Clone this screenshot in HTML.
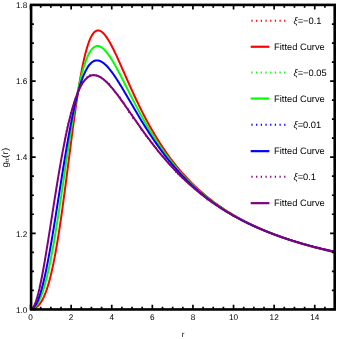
<!DOCTYPE html>
<html><head><meta charset="utf-8"><style>
html,body{margin:0;padding:0;background:#fff;}
svg{display:block;font-family:"Liberation Sans",sans-serif;will-change:transform;text-rendering:geometricPrecision;}
</style></head><body>
<svg width="337" height="339" viewBox="0 0 337 339">
<rect width="337" height="339" fill="#fff"/>

<path d="M31.20 308.80L32.37 308.73L33.55 308.50L34.72 308.09L35.90 307.49L37.07 306.68L38.24 305.64L39.42 304.35L40.59 302.79L41.77 300.94L42.94 298.79L44.12 296.31L45.29 293.49L46.46 290.32L47.64 286.77L48.81 282.84L49.99 278.51L51.16 273.78L52.33 268.64L53.51 263.09L54.68 257.13L55.86 250.76L57.03 244.00L58.21 236.85L59.38 229.34L60.55 221.48L61.73 213.32L62.90 204.88L64.08 196.19L65.25 187.31L66.42 178.28L67.60 169.14L68.77 159.96L69.95 150.78L71.12 141.67L72.29 132.66L73.47 123.83L74.64 115.22L75.82 106.88L76.99 98.85L78.17 91.19L79.34 83.91L80.51 77.06L81.69 70.66L82.86 64.74L84.04 59.29L85.21 54.34L86.38 49.88L87.56 45.92L88.73 42.45L89.91 39.45L91.08 36.92L92.25 34.83L93.43 33.18L94.60 31.93L95.78 31.07L96.95 30.57L98.13 30.42L99.30 30.58L100.47 31.03L101.65 31.75L102.82 32.72L104.00 33.92L105.17 35.32L106.34 36.90L107.52 38.65L108.69 40.55L109.87 42.58L111.04 44.72L112.22 46.97L113.39 49.30L114.56 51.70L115.74 54.17L116.91 56.69L118.09 59.25L119.26 61.85L120.43 64.48L121.61 67.12L122.78 69.77L123.96 72.43L125.13 75.10L126.30 77.76L127.48 80.41L128.65 83.05L129.83 85.67L131.00 88.28L132.18 90.86L133.35 93.42L134.52 95.96L135.70 98.47L136.87 100.96L138.05 103.41L139.22 105.83L140.39 108.23L141.57 110.59L142.74 112.92L143.92 115.21L145.09 117.47L146.26 119.70L147.44 121.90L148.61 124.06L149.79 126.18L150.96 128.28L152.14 130.34L153.31 132.37L154.48 134.36L155.66 136.32L156.83 138.25L158.01 140.15L159.18 142.02L160.35 143.86L161.53 145.66L162.70 147.44L163.88 149.18L165.05 150.90L166.23 152.58L167.40 154.24L168.57 155.87L169.75 157.47L170.92 159.05L172.10 160.60L173.27 162.12L174.44 163.62L175.62 165.10L176.79 166.54L177.97 167.97L179.14 169.37L180.31 170.75L181.49 172.10L182.66 173.43L183.84 174.75L185.01 176.03L186.19 177.30L187.36 178.55L188.53 179.78L189.71 180.99L190.88 182.18L192.06 183.35L193.23 184.50L194.40 185.63L195.58 186.74L196.75 187.84L197.93 188.92L199.10 189.99L200.27 191.03L201.45 192.06L202.62 193.08L203.80 194.08L204.97 195.06L206.15 196.03L207.32 196.99L208.49 197.93L209.67 198.86L210.84 199.77L212.02 200.67L213.19 201.55L214.36 202.43L215.54 203.29L216.71 204.14L217.89 204.97L219.06 205.80L220.24 206.61L221.41 207.41L222.58 208.20L223.76 208.98L224.93 209.75L226.11 210.50L227.28 211.25L228.45 211.99L229.63 212.71L230.80 213.43L231.98 214.14L233.15 214.83L234.32 215.52L235.50 216.20L236.67 216.87L237.85 217.53L239.02 218.18L240.20 218.82L241.37 219.46L242.54 220.09L243.72 220.71L244.89 221.32L246.07 221.92L247.24 222.52L248.41 223.10L249.59 223.69L250.76 224.26L251.94 224.83L253.11 225.38L254.28 225.94L255.46 226.48L256.63 227.02L257.81 227.56L258.98 228.08L260.16 228.60L261.33 229.11L262.50 229.62L263.68 230.12L264.85 230.62L266.03 231.11L267.20 231.59L268.37 232.07L269.55 232.55L270.72 233.01L271.90 233.48L273.07 233.93L274.25 234.38L275.42 234.83L276.59 235.27L277.77 235.71L278.94 236.14L280.12 236.57L281.29 236.99L282.46 237.41L283.64 237.82L284.81 238.23L285.99 238.64L287.16 239.04L288.33 239.43L289.51 239.82L290.68 240.21L291.86 240.59L293.03 240.97L294.21 241.35L295.38 241.72L296.55 242.09L297.73 242.45L298.90 242.81L300.08 243.17L301.25 243.52L302.42 243.87L303.60 244.22L304.77 244.56L305.95 244.90L307.12 245.23L308.29 245.56L309.47 245.89L310.64 246.22L311.82 246.54L312.99 246.86L314.17 247.18L315.34 247.49L316.51 247.80L317.69 248.11L318.86 248.41L320.04 248.71L321.21 249.01L322.38 249.31L323.56 249.60L324.73 249.89L325.91 250.18L327.08 250.46L328.26 250.74L329.43 251.02L330.60 251.30L331.78 251.57L332.95 251.85L334.13 252.12L335.30 252.38" fill="none" stroke="#ff0000" stroke-width="2.0" stroke-linejoin="round"/>
<path d="M31.20 308.80L32.37 308.63L33.55 308.11L34.72 307.25L35.90 306.03L37.07 304.46L38.24 302.52L39.42 300.22L40.59 297.56L41.77 294.52L42.94 291.12L44.12 287.35L45.29 283.21L46.46 278.71L47.64 273.85L48.81 268.64L49.99 263.09L51.16 257.21L52.33 251.01L53.51 244.51L54.68 237.73L55.86 230.69L57.03 223.42L58.21 215.94L59.38 208.28L60.55 200.47L61.73 192.55L62.90 184.55L64.08 176.51L65.25 168.47L66.42 160.45L67.60 152.51L68.77 144.67L69.95 136.98L71.12 129.47L72.29 122.17L73.47 115.11L74.64 108.33L75.82 101.84L76.99 95.67L78.17 89.84L79.34 84.36L80.51 79.25L81.69 74.51L82.86 70.16L84.04 66.18L85.21 62.60L86.38 59.39L87.56 56.55L88.73 54.08L89.91 51.97L91.08 50.20L92.25 48.76L93.43 47.65L94.60 46.83L95.78 46.30L96.95 46.04L98.13 46.04L99.30 46.28L100.47 46.74L101.65 47.41L102.82 48.26L104.00 49.30L105.17 50.49L106.34 51.84L107.52 53.31L108.69 54.91L109.87 56.62L111.04 58.42L112.22 60.32L113.39 62.29L114.56 64.32L115.74 66.42L116.91 68.57L118.09 70.76L119.26 72.98L120.43 75.24L121.61 77.52L122.78 79.81L123.96 82.13L125.13 84.44L126.30 86.77L127.48 89.09L128.65 91.41L129.83 93.73L131.00 96.04L132.18 98.33L133.35 100.62L134.52 102.88L135.70 105.13L136.87 107.37L138.05 109.58L139.22 111.77L140.39 113.93L141.57 116.08L142.74 118.20L143.92 120.29L145.09 122.36L146.26 124.40L147.44 126.42L148.61 128.41L149.79 130.38L150.96 132.31L152.14 134.22L153.31 136.11L154.48 137.96L155.66 139.79L156.83 141.59L158.01 143.37L159.18 145.12L160.35 146.84L161.53 148.53L162.70 150.20L163.88 151.85L165.05 153.47L166.23 155.06L167.40 156.63L168.57 158.18L169.75 159.70L170.92 161.20L172.10 162.67L173.27 164.12L174.44 165.55L175.62 166.95L176.79 168.34L177.97 169.70L179.14 171.04L180.31 172.36L181.49 173.66L182.66 174.94L183.84 176.20L185.01 177.44L186.19 178.66L187.36 179.86L188.53 181.05L189.71 182.21L190.88 183.36L192.06 184.49L193.23 185.60L194.40 186.70L195.58 187.78L196.75 188.84L197.93 189.89L199.10 190.92L200.27 191.93L201.45 192.93L202.62 193.92L203.80 194.89L204.97 195.85L206.15 196.79L207.32 197.72L208.49 198.64L209.67 199.54L210.84 200.43L212.02 201.30L213.19 202.17L214.36 203.02L215.54 203.86L216.71 204.69L217.89 205.51L219.06 206.31L220.24 207.10L221.41 207.89L222.58 208.66L223.76 209.42L224.93 210.17L226.11 210.91L227.28 211.64L228.45 212.36L229.63 213.08L230.80 213.78L231.98 214.47L233.15 215.15L234.32 215.83L235.50 216.49L236.67 217.15L237.85 217.80L239.02 218.44L240.20 219.07L241.37 219.69L242.54 220.31L243.72 220.92L244.89 221.52L246.07 222.11L247.24 222.70L248.41 223.27L249.59 223.85L250.76 224.41L251.94 224.97L253.11 225.52L254.28 226.06L255.46 226.60L256.63 227.13L257.81 227.65L258.98 228.17L260.16 228.68L261.33 229.19L262.50 229.69L263.68 230.18L264.85 230.67L266.03 231.15L267.20 231.63L268.37 232.10L269.55 232.57L270.72 233.03L271.90 233.48L273.07 233.93L274.25 234.38L275.42 234.82L276.59 235.25L277.77 235.68L278.94 236.11L280.12 236.53L281.29 236.95L282.46 237.36L283.64 237.77L284.81 238.17L285.99 238.57L287.16 238.96L288.33 239.35L289.51 239.74L290.68 240.12L291.86 240.50L293.03 240.88L294.21 241.25L295.38 241.61L296.55 241.97L297.73 242.33L298.90 242.69L300.08 243.04L301.25 243.39L302.42 243.73L303.60 244.08L304.77 244.41L305.95 244.75L307.12 245.08L308.29 245.41L309.47 245.73L310.64 246.05L311.82 246.37L312.99 246.69L314.17 247.00L315.34 247.31L316.51 247.61L317.69 247.92L318.86 248.22L320.04 248.51L321.21 248.81L322.38 249.10L323.56 249.39L324.73 249.68L325.91 249.96L327.08 250.24L328.26 250.52L329.43 250.80L330.60 251.07L331.78 251.34L332.95 251.61L334.13 251.88L335.30 252.14" fill="none" stroke="#00ff00" stroke-width="2.0" stroke-linejoin="round"/>
<path d="M31.20 308.80L32.37 308.54L33.55 307.76L34.72 306.47L35.90 304.68L37.07 302.40L38.24 299.65L39.42 296.43L40.59 292.77L41.77 288.68L42.94 284.19L44.12 279.31L45.29 274.06L46.46 268.47L47.64 262.56L48.81 256.37L49.99 249.90L51.16 243.21L52.33 236.31L53.51 229.23L54.68 222.00L55.86 214.67L57.03 207.25L58.21 199.78L59.38 192.29L60.55 184.81L61.73 177.38L62.90 170.02L64.08 162.77L65.25 155.64L66.42 148.67L67.60 141.87L68.77 135.28L69.95 128.91L71.12 122.78L72.29 116.91L73.47 111.31L74.64 105.99L75.82 100.96L76.99 96.23L78.17 91.81L79.34 87.70L80.51 83.89L81.69 80.39L82.86 77.20L84.04 74.32L85.21 71.73L86.38 69.43L87.56 67.41L88.73 65.68L89.91 64.20L91.08 62.99L92.25 62.02L93.43 61.28L94.60 60.77L95.78 60.48L96.95 60.38L98.13 60.47L99.30 60.75L100.47 61.19L101.65 61.79L102.82 62.53L104.00 63.41L105.17 64.42L106.34 65.54L107.52 66.78L108.69 68.10L109.87 69.52L111.04 71.02L112.22 72.60L113.39 74.24L114.56 75.94L115.74 77.70L116.91 79.50L118.09 81.34L119.26 83.22L120.43 85.13L121.61 87.07L122.78 89.03L123.96 91.01L125.13 93.00L126.30 95.01L127.48 97.02L128.65 99.04L129.83 101.06L131.00 103.08L132.18 105.09L133.35 107.10L134.52 109.11L135.70 111.11L136.87 113.09L138.05 115.07L139.22 117.03L140.39 118.98L141.57 120.91L142.74 122.83L143.92 124.73L145.09 126.61L146.26 128.47L147.44 130.32L148.61 132.14L149.79 133.95L150.96 135.74L152.14 137.50L153.31 139.25L154.48 140.97L155.66 142.67L156.83 144.35L158.01 146.01L159.18 147.65L160.35 149.27L161.53 150.87L162.70 152.44L163.88 153.99L165.05 155.53L166.23 157.04L167.40 158.53L168.57 160.00L169.75 161.45L170.92 162.88L172.10 164.29L173.27 165.67L174.44 167.04L175.62 168.39L176.79 169.72L177.97 171.04L179.14 172.33L180.31 173.60L181.49 174.86L182.66 176.09L183.84 177.31L185.01 178.52L186.19 179.70L187.36 180.87L188.53 182.02L189.71 183.15L190.88 184.27L192.06 185.37L193.23 186.46L194.40 187.53L195.58 188.58L196.75 189.62L197.93 190.64L199.10 191.65L200.27 192.65L201.45 193.63L202.62 194.60L203.80 195.55L204.97 196.49L206.15 197.42L207.32 198.33L208.49 199.23L209.67 200.12L210.84 200.99L212.02 201.86L213.19 202.71L214.36 203.55L215.54 204.38L216.71 205.19L217.89 206.00L219.06 206.79L220.24 207.58L221.41 208.35L222.58 209.11L223.76 209.86L224.93 210.61L226.11 211.34L227.28 212.06L228.45 212.77L229.63 213.47L230.80 214.17L231.98 214.85L233.15 215.53L234.32 216.20L235.50 216.85L236.67 217.50L237.85 218.14L239.02 218.78L240.20 219.40L241.37 220.02L242.54 220.63L243.72 221.23L244.89 221.82L246.07 222.41L247.24 222.98L248.41 223.56L249.59 224.12L250.76 224.68L251.94 225.23L253.11 225.77L254.28 226.31L255.46 226.84L256.63 227.36L257.81 227.88L258.98 228.39L260.16 228.89L261.33 229.39L262.50 229.89L263.68 230.37L264.85 230.86L266.03 231.33L267.20 231.80L268.37 232.27L269.55 232.72L270.72 233.18L271.90 233.63L273.07 234.07L274.25 234.51L275.42 234.94L276.59 235.37L277.77 235.79L278.94 236.21L280.12 236.63L281.29 237.03L282.46 237.44L283.64 237.84L284.81 238.23L285.99 238.63L287.16 239.01L288.33 239.40L289.51 239.77L290.68 240.15L291.86 240.52L293.03 240.89L294.21 241.25L295.38 241.61L296.55 241.96L297.73 242.31L298.90 242.66L300.08 243.00L301.25 243.34L302.42 243.68L303.60 244.01L304.77 244.34L305.95 244.67L307.12 244.99L308.29 245.31L309.47 245.63L310.64 245.94L311.82 246.25L312.99 246.56L314.17 246.86L315.34 247.16L316.51 247.46L317.69 247.75L318.86 248.04L320.04 248.33L321.21 248.62L322.38 248.90L323.56 249.18L324.73 249.46L325.91 249.73L327.08 250.01L328.26 250.27L329.43 250.54L330.60 250.81L331.78 251.07L332.95 251.33L334.13 251.58L335.30 251.84" fill="none" stroke="#0000ff" stroke-width="2.0" stroke-linejoin="round"/>
<path d="M63.64 146.58L64.69 142.07L65.27 137.62L65.82 133.31L66.94 129.26L67.54 125.25L69.00 121.60L70.57 118.15L70.48 114.44L71.30 111.11L72.77 108.13L73.59 105.13L74.35 102.26L74.69 99.41L76.05 97.06L77.31 94.84L77.16 92.21L78.50 90.34L78.67 88.07L79.88 86.43L80.51 84.63L82.17 83.58L82.59 81.90L84.17 81.16L85.01 80.02L85.76 78.92L85.79 77.11L87.42 77.16L88.48 76.74L89.41 76.30L89.94 75.04L91.08 75.25L91.94 74.75L92.89 74.70L93.82 75.68L94.75 74.69L95.60 75.24L96.36 75.92L97.47 75.42L98.28 76.00L99.12 76.52L100.02 76.96L101.28 76.89L101.79 78.08L102.25 79.28L104.12 78.71L104.16 80.47L105.32 80.95L106.49 81.47L106.36 83.37L107.72 83.79L109.39 83.99L109.77 85.43L110.45 86.62L111.65 87.38L112.17 88.74L113.38 89.56L113.95 90.92L114.50 92.30L116.31 92.74L116.81 94.20L117.99 95.16L118.62 96.55L120.09 97.33L120.71 98.75L121.43 100.11L121.82 101.70L122.60 103.02L124.60 103.50L125.25 104.93L125.49 106.65L127.56 107.10L127.76 108.85L128.48 110.25L128.76 111.95L129.90 113.06L131.25 114.02L132.16 115.29L132.99 116.61L133.08 118.44L134.85 119.11L135.68 120.42L136.27 121.90L137.37 123.02L138.29 124.26L139.59 125.22L139.99 126.83L141.07 127.94L141.23 129.70L142.35 130.77L143.54 131.78L144.12 133.23L145.46 134.12L145.73 135.79L147.08 136.65L147.71 138.04L149.43 138.61L149.59 140.33L151.37 140.83L152.41 141.87L152.54 143.61L153.69 144.56L154.11 146.06L154.10 147.90L156.32 147.97L157.11 149.16L157.65 150.55L158.41 151.74L159.58 152.60L160.48 153.67L160.99 155.06L161.95 156.06L163.49 156.56L163.98 157.94L164.82 159.02L166.16 159.65L166.50 161.14L167.85 161.75L167.99 163.41L169.20 164.12L170.13 165.06L171.29 165.78L171.99 166.92L173.63 167.17L174.17 168.44L174.46 169.95L176.33 169.93L176.04 171.98L177.95 171.90L177.86 173.77L179.37 174.04L179.62 175.56L180.76 176.19L182.29 176.40L182.11 178.36L182.93 179.30L184.39 179.54L185.36 180.30L186.20 181.17L187.39 181.66L187.51 183.32L189.00 183.46L189.71 184.46L190.87 184.94L191.69 185.79L192.82 186.30L192.79 188.12L194.19 188.29L194.68 189.52L195.90 189.86L197.04 190.30L197.80 191.19L198.76 191.82L199.45 192.78L200.47 193.32L201.33 194.06L202.59 194.29L203.28 195.23L203.34 196.99L205.01 196.65L206.02 197.15L206.45 198.43L206.99 199.56L208.81 198.94L209.29 200.14L210.31 200.59L211.56 200.72L211.65 202.47L212.78 202.75L213.64 203.41" fill="none" stroke="#800080" stroke-width="1.6" stroke-dasharray="1.2 2.6"/>
<path d="M31.20 308.80L32.37 308.31L33.55 306.89L34.72 304.64L35.90 301.62L37.07 297.91L38.24 293.58L39.42 288.70L40.59 283.31L41.77 277.49L42.94 271.28L44.12 264.75L45.29 257.94L46.46 250.90L47.64 243.68L48.81 236.32L49.99 228.87L51.16 221.36L52.33 213.83L53.51 206.32L54.68 198.87L55.86 191.49L57.03 184.23L58.21 177.11L59.38 170.15L60.55 163.37L61.73 156.80L62.90 150.44L64.08 144.32L65.25 138.45L66.42 132.83L67.60 127.48L68.77 122.40L69.95 117.59L71.12 113.07L72.29 108.82L73.47 104.85L74.64 101.16L75.82 97.75L76.99 94.61L78.17 91.73L79.34 89.11L80.51 86.74L81.69 84.62L82.86 82.74L84.04 81.09L85.21 79.66L86.38 78.44L87.56 77.43L88.73 76.61L89.91 75.98L91.08 75.52L92.25 75.24L93.43 75.11L94.60 75.13L95.78 75.29L96.95 75.58L98.13 76.00L99.30 76.54L100.47 77.19L101.65 77.94L102.82 78.78L104.00 79.71L105.17 80.73L106.34 81.82L107.52 82.98L108.69 84.20L109.87 85.48L111.04 86.82L112.22 88.20L113.39 89.63L114.56 91.10L115.74 92.61L116.91 94.15L118.09 95.71L119.26 97.30L120.43 98.91L121.61 100.54L122.78 102.19L123.96 103.85L125.13 105.53L126.30 107.21L127.48 108.89L128.65 110.59L129.83 112.28L131.00 113.98L132.18 115.67L133.35 117.36L134.52 119.05L135.70 120.74L136.87 122.42L138.05 124.09L139.22 125.76L140.39 127.42L141.57 129.06L142.74 130.70L143.92 132.33L145.09 133.94L146.26 135.54L147.44 137.13L148.61 138.71L149.79 140.27L150.96 141.82L152.14 143.36L153.31 144.88L154.48 146.38L155.66 147.88L156.83 149.35L158.01 150.81L159.18 152.26L160.35 153.69L161.53 155.10L162.70 156.50L163.88 157.89L165.05 159.26L166.23 160.61L167.40 161.95L168.57 163.27L169.75 164.57L170.92 165.86L172.10 167.14L173.27 168.40L174.44 169.64L175.62 170.87L176.79 172.09L177.97 173.29L179.14 174.47L180.31 175.64L181.49 176.80L182.66 177.94L183.84 179.07L185.01 180.18L186.19 181.28L187.36 182.36L188.53 183.43L189.71 184.49L190.88 185.54L192.06 186.57L193.23 187.59L194.40 188.59L195.58 189.58L196.75 190.56L197.93 191.53L199.10 192.49L200.27 193.43L201.45 194.36L202.62 195.28L203.80 196.19L204.97 197.08L206.15 197.97L207.32 198.84L208.49 199.71L209.67 200.56L210.84 201.40L212.02 202.23L213.19 203.05L214.36 203.86L215.54 204.66L216.71 205.45L217.89 206.23L219.06 207.00L220.24 207.76L221.41 208.51L222.58 209.25L223.76 209.98L224.93 210.70L226.11 211.42L227.28 212.12L228.45 212.82L229.63 213.51L230.80 214.19L231.98 214.86L233.15 215.52L234.32 216.18L235.50 216.83L236.67 217.47L237.85 218.10L239.02 218.72L240.20 219.34L241.37 219.95L242.54 220.55L243.72 221.15L244.89 221.74L246.07 222.32L247.24 222.89L248.41 223.46L249.59 224.02L250.76 224.57L251.94 225.12L253.11 225.66L254.28 226.20L255.46 226.73L256.63 227.25L257.81 227.77L258.98 228.28L260.16 228.78L261.33 229.28L262.50 229.77L263.68 230.26L264.85 230.74L266.03 231.22L267.20 231.69L268.37 232.16L269.55 232.62L270.72 233.08L271.90 233.53L273.07 233.97L274.25 234.41L275.42 234.85L276.59 235.28L277.77 235.71L278.94 236.13L280.12 236.55L281.29 236.96L282.46 237.37L283.64 237.77L284.81 238.17L285.99 238.57L287.16 238.96L288.33 239.35L289.51 239.73L290.68 240.11L291.86 240.48L293.03 240.85L294.21 241.22L295.38 241.58L296.55 241.94L297.73 242.30L298.90 242.65L300.08 243.00L301.25 243.35L302.42 243.69L303.60 244.02L304.77 244.36L305.95 244.69L307.12 245.02L308.29 245.34L309.47 245.66L310.64 245.98L311.82 246.29L312.99 246.61L314.17 246.91L315.34 247.22L316.51 247.52L317.69 247.82L318.86 248.12L320.04 248.41L321.21 248.70L322.38 248.99L323.56 249.27L324.73 249.56L325.91 249.83L327.08 250.11L328.26 250.39L329.43 250.66L330.60 250.93L331.78 251.19L332.95 251.46L334.13 251.72L335.30 251.98" fill="none" stroke="#800080" stroke-width="2.0" stroke-linejoin="round"/>
<rect x="31.1" y="4.9" width="303.60" height="304.55" fill="none" stroke="#000" stroke-width="2.6"/>
<path d="M30.55 309.45v-4.6M30.55 4.9v4.6M40.70 309.45v-2.8M40.70 4.9v2.8M50.85 309.45v-2.8M50.85 4.9v2.8M61.00 309.45v-2.8M61.00 4.9v2.8M71.15 309.45v-4.6M71.15 4.9v4.6M81.30 309.45v-2.8M81.30 4.9v2.8M91.45 309.45v-2.8M91.45 4.9v2.8M101.60 309.45v-2.8M101.60 4.9v2.8M111.75 309.45v-4.6M111.75 4.9v4.6M121.90 309.45v-2.8M121.90 4.9v2.8M132.05 309.45v-2.8M132.05 4.9v2.8M142.20 309.45v-2.8M142.20 4.9v2.8M152.35 309.45v-4.6M152.35 4.9v4.6M162.50 309.45v-2.8M162.50 4.9v2.8M172.65 309.45v-2.8M172.65 4.9v2.8M182.80 309.45v-2.8M182.80 4.9v2.8M192.95 309.45v-4.6M192.95 4.9v4.6M203.10 309.45v-2.8M203.10 4.9v2.8M213.25 309.45v-2.8M213.25 4.9v2.8M223.40 309.45v-2.8M223.40 4.9v2.8M233.55 309.45v-4.6M233.55 4.9v4.6M243.70 309.45v-2.8M243.70 4.9v2.8M253.85 309.45v-2.8M253.85 4.9v2.8M264.00 309.45v-2.8M264.00 4.9v2.8M274.15 309.45v-4.6M274.15 4.9v4.6M284.30 309.45v-2.8M284.30 4.9v2.8M294.45 309.45v-2.8M294.45 4.9v2.8M304.60 309.45v-2.8M304.60 4.9v2.8M314.75 309.45v-4.6M314.75 4.9v4.6M324.90 309.45v-2.8M324.90 4.9v2.8M335.05 309.45v-2.8M335.05 4.9v2.8M31.1 309.40h4.6M334.7 309.40h-4.6M31.1 290.37h2.8M334.7 290.37h-2.8M31.1 271.35h2.8M334.7 271.35h-2.8M31.1 252.33h2.8M334.7 252.33h-2.8M31.1 233.30h4.6M334.7 233.30h-4.6M31.1 214.27h2.8M334.7 214.27h-2.8M31.1 195.25h2.8M334.7 195.25h-2.8M31.1 176.22h2.8M334.7 176.22h-2.8M31.1 157.20h4.6M334.7 157.20h-4.6M31.1 138.18h2.8M334.7 138.18h-2.8M31.1 119.15h2.8M334.7 119.15h-2.8M31.1 100.12h2.8M334.7 100.12h-2.8M31.1 81.10h4.6M334.7 81.10h-4.6M31.1 62.08h2.8M334.7 62.08h-2.8M31.1 43.05h2.8M334.7 43.05h-2.8M31.1 24.03h2.8M334.7 24.03h-2.8M31.1 5.00h4.6M334.7 5.00h-4.6" stroke="#000" stroke-width="1.7" fill="none"/>
<g font-size="8.2" fill="#000">
<text x="30.55" y="319.6" text-anchor="middle">0</text>
<text x="71.15" y="319.6" text-anchor="middle">2</text>
<text x="111.75" y="319.6" text-anchor="middle">4</text>
<text x="152.35" y="319.6" text-anchor="middle">6</text>
<text x="192.95" y="319.6" text-anchor="middle">8</text>
<text x="233.55" y="319.6" text-anchor="middle">10</text>
<text x="274.15" y="319.6" text-anchor="middle">12</text>
<text x="314.75" y="319.6" text-anchor="middle">14</text>
<text x="27.3" y="312.65" text-anchor="end">1.0</text>
<text x="27.3" y="236.55" text-anchor="end">1.2</text>
<text x="27.3" y="160.45" text-anchor="end">1.4</text>
<text x="27.3" y="84.35" text-anchor="end">1.6</text>
<text x="27.3" y="8.25" text-anchor="end">1.8</text>
</g>
<text x="183" y="336.9" font-size="8" text-anchor="middle">r</text>
<text transform=" translate(7.5,157.5) rotate(-90) scale(1.12,1)" font-size="8.8" letter-spacing="0.2" text-anchor="middle">g<tspan font-size="5.6" dy="1.7">tt</tspan><tspan dy="-1.7">(r)</tspan></text>
<line x1="251.4" x2="285.6" y1="20.8" y2="20.8" stroke="#ff0000" stroke-width="2" stroke-dasharray="1.25 3.43"/>
<text x="293.5" y="24.0" font-size="9.3"><tspan font-style="italic">ξ</tspan>=−0.1</text>
<line x1="250.7" x2="269.4" y1="46.75" y2="46.75" stroke="#ff0000" stroke-width="2.2"/>
<text x="274.1" y="49.800000000000004" font-size="9.3">Fitted Curve</text>
<line x1="251.4" x2="285.6" y1="72.6" y2="72.6" stroke="#00ff00" stroke-width="2" stroke-dasharray="1.25 3.43"/>
<text x="293.5" y="75.8" font-size="9.3"><tspan font-style="italic">ξ</tspan>=−0.05</text>
<line x1="250.7" x2="269.4" y1="98.55000000000001" y2="98.55000000000001" stroke="#00ff00" stroke-width="2.2"/>
<text x="274.1" y="101.60000000000001" font-size="9.3">Fitted Curve</text>
<line x1="251.4" x2="285.6" y1="124.8" y2="124.8" stroke="#0000ff" stroke-width="2" stroke-dasharray="1.25 3.43"/>
<text x="293.5" y="128.0" font-size="9.3"><tspan font-style="italic">ξ</tspan>=0.01</text>
<line x1="250.7" x2="269.4" y1="151.15" y2="151.15" stroke="#0000ff" stroke-width="2.2"/>
<text x="274.1" y="154.2" font-size="9.3">Fitted Curve</text>
<line x1="251.4" x2="285.6" y1="176.7" y2="176.7" stroke="#800080" stroke-width="2" stroke-dasharray="1.25 3.43"/>
<text x="293.5" y="179.89999999999998" font-size="9.3"><tspan font-style="italic">ξ</tspan>=0.1</text>
<line x1="250.7" x2="269.4" y1="203.15" y2="203.15" stroke="#800080" stroke-width="2.2"/>
<text x="274.1" y="206.2" font-size="9.3">Fitted Curve</text>
</svg></body></html>
